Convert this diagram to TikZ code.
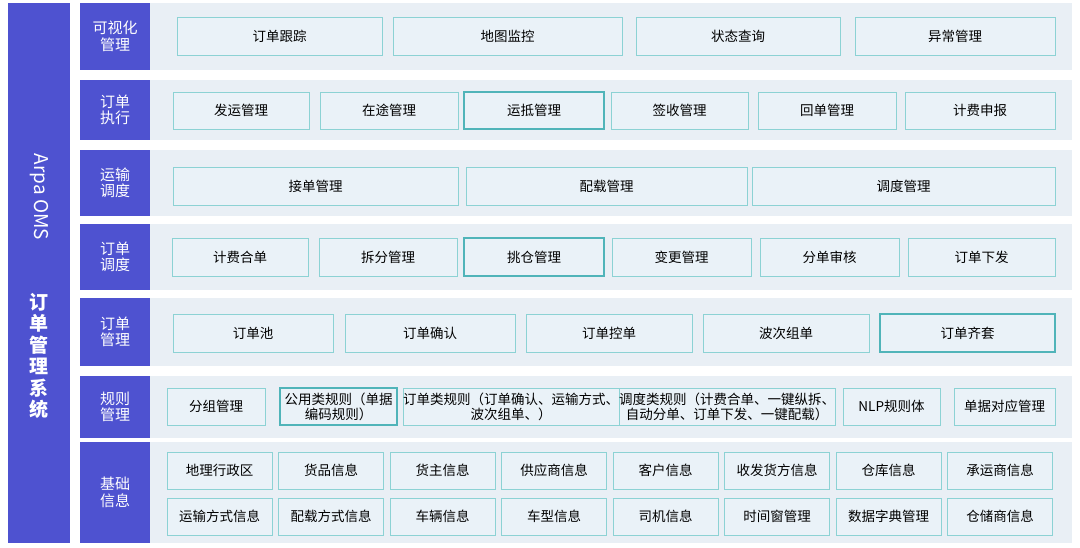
\documentclass[tikz,border=0pt]{standalone}
\usepackage{fontspec}
\setmainfont{Noto Sans CJK SC}
\begin{document}
\begin{tikzpicture}[x=1pt,y=-1pt,
  lab/.style={fill=side,text=white,font=\fontsize{15}{16.5}\selectfont,align=center,inner sep=0pt},
  bx/.style={draw=bord,fill=boxf,line width=0.9pt,font=\fontsize{13.5}{15}\selectfont,align=center,inner sep=0pt},
  hb/.style={bx,draw=hbord,line width=1.3pt}]
\definecolor{side}{RGB}{78,82,208}
\definecolor{rowbg}{RGB}{233,239,245}
\definecolor{boxf}{RGB}{234,242,248}
\definecolor{bord}{RGB}{140,210,212}
\definecolor{hbord}{RGB}{80,180,185}
\useasboundingbox (0,0) rectangle (1080,547);
\fill[white] (0,0) rectangle (1080,547);
\fill[side] (8,3) rectangle (70,543);
\node[text=white,rotate=-90,font=\fontsize{19}{20}\selectfont] (t1) at (39,197) {Arpa OMS};
\node[text=white,font=\fontsize{19}{21.5}\selectfont\bfseries,align=center] (t2) at (39,356) {订\\单\\管\\理\\系\\统};
% rows
\newcommand\myrow[4]{\fill[rowbg] (150,#1) rectangle (1072,#2);
  \node[lab,minimum width=70pt,minimum height={#2-#1}] (#4) at (115,{(#1+#2)/2}) {#3};}
\myrow{3}{70}{可视化\\管理}{r1}
\myrow{80}{140}{订单\\执行}{r2}
\myrow{150}{216}{运输\\调度}{r3}
\myrow{224}{290}{订单\\调度}{r4}
\myrow{298}{366}{订单\\管理}{r5}
\myrow{376}{438}{规则\\管理}{r6}
\myrow{442}{543}{基础\\信息}{r7}
\newcommand\bb[7][bx]{\node[#1,minimum width={(#3)-(#2)},minimum height={#5-#4}] (#6) at ({((#2)+(#3))/2},{(#4+#5)/2}) {#7};}
% row1
\bb{177}{382}{17}{55}{a1}{订单跟踪}
\bb{393}{622}{17}{55}{a2}{地图监控}
\bb{636}{840}{17}{55}{a3}{状态查询}
\bb{855}{1055}{17}{55}{a4}{异常管理}
% row2
\bb{173}{309}{92}{129}{b1}{发运管理}
\bb{320}{458}{92}{129}{b2}{在途管理}
\bb[hb]{464}{604}{92}{129}{b3}{运抵管理}
\bb{611}{748}{92}{129}{b4}{签收管理}
\bb{758}{896}{92}{129}{b5}{回单管理}
\bb{905}{1055}{92}{129}{b6}{计费申报}
% row3
\bb{173}{458}{167}{205}{c1}{接单管理}
\bb{466}{747}{167}{205}{c2}{配载管理}
\bb{752}{1055}{167}{205}{c3}{调度管理}
% row4
\bb{172}{308}{238}{276}{d1}{计费合单}
\bb{319}{457}{238}{276}{d2}{拆分管理}
\bb[hb]{464}{604}{238}{276}{d3}{挑仓管理}
\bb{612}{751}{238}{276}{d4}{变更管理}
\bb{760}{899}{238}{276}{d5}{分单审核}
\bb{908}{1055}{238}{276}{d6}{订单下发}
% row5
\bb{173}{333}{314}{352}{e1}{订单池}
\bb{345}{515}{314}{352}{e2}{订单确认}
\bb{526}{692}{314}{352}{e3}{订单控单}
\bb{703}{869}{314}{352}{e4}{波次组单}
\bb[hb]{880}{1055}{314}{352}{e5}{订单齐套}
% row6
\bb{167}{265}{388}{425}{f1}{分组管理}
\bb[hb]{280}{397}{388}{425}{f2}{公用类规则（单据\\编码规则）}
\bb{406}{616}{388}{425}{f3}{订单类规则（订单确认、运输方式、\\波次组单、）}
\bb{622}{832}{388}{425}{f4}{调度类规则（计费合单、一键纵拆、\\自动分单、订单下发、一键配载）}
\bb{843}{940}{388}{425}{f5}{NLP规则体}
\bb{954}{1055}{388}{425}{f6}{单据对应管理}
% row7
\foreach \t [count=\i from 0] in {地理行政区,货品信息,货主信息,供应商信息,客户信息,收发货方信息,仓库信息,承运商信息}{
  \pgfmathsetmacro\xa{167+\i*111.5}\pgfmathsetmacro\xb{\xa+105}
  \bb{\xa}{\xb}{452}{489}{g\i}{\t}}
\foreach \t [count=\i from 0] in {运输方式信息,配载方式信息,车辆信息,车型信息,司机信息,时间窗管理,数据字典管理,仓储商信息}{
  \pgfmathsetmacro\xa{167+\i*111.5}\pgfmathsetmacro\xb{\xa+105}
  \bb{\xa}{\xb}{498}{535}{h\i}{\t}}
\end{tikzpicture}
\end{document}
